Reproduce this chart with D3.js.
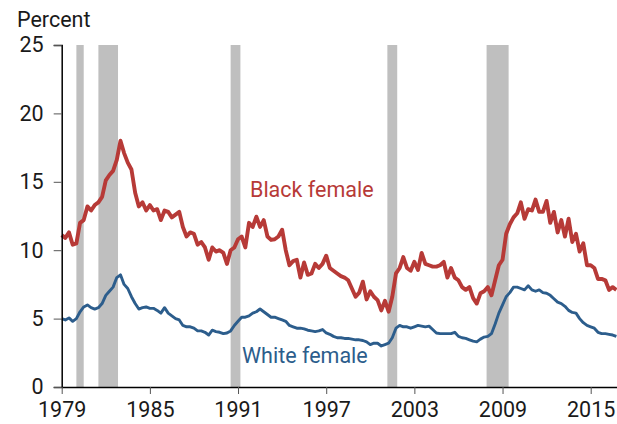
<!DOCTYPE html>
<html>
<head>
<meta charset="utf-8">
<script src="https://cdn.jsdelivr.net/npm/d3@7"></script>
<style>
  body { margin: 0; background: #fff; }
  text { font-family: Roboto, "Noto Sans", sans-serif; }
</style>
</head>
<body>
<svg id="visualization" width="617" height="424"></svg>
<script>
// quarterly readings (Jan, Apr, Jul, Oct), starting 1979
const startYear = 1979;
const blackFemale = [
    11.1, 10.9, 11.3, 10.4,   // 1979
    10.5, 12.0, 12.2, 13.2,
    12.9, 13.3, 13.5, 13.9,
    15.1, 15.5, 15.8, 16.6,
    18.0, 17.1, 16.4, 15.9,
    14.2, 13.2, 13.5, 12.9,   // 1984
    13.3, 12.9, 13.0, 12.2,
    12.9, 12.8, 12.4, 12.6,
    12.8, 11.7, 11.0, 11.3,
    11.2, 10.4, 10.6, 10.2,
    9.3, 10.2, 9.9, 10.0,     // 1989
    9.8, 9.0, 10.0, 10.2,
    10.8, 11.0, 10.2, 12.0,
    11.7, 12.45, 11.7, 12.2,
    11.0, 10.75, 10.8, 11.0,
    11.5, 10.0, 8.9, 9.2,     // 1994
    9.3, 8.0, 9.1, 8.2,
    8.3, 9.0, 8.7, 9.0,
    9.6, 8.7, 8.5, 8.3,
    8.1, 8.0, 7.8, 7.2,
    6.6, 6.9, 7.7, 6.4,       // 1999
    7.0, 6.6, 6.35, 5.6,
    6.3, 5.5, 6.6, 8.3,
    8.7, 9.5, 8.7, 8.5,
    9.15, 8.55, 9.8, 9.0,
    8.9, 8.8, 8.8, 8.9,       // 2004
    9.15, 8.0, 8.7, 8.0,
    7.8, 7.3, 7.1, 7.3,
    6.5, 6.1, 6.85, 7.0,
    7.3, 6.7, 7.8, 8.9,
    9.3, 11.2, 11.9, 12.4,    // 2009
    12.7, 13.5, 12.3, 13.0,
    12.9, 13.7, 12.8, 12.8,
    13.6, 12.0, 12.8, 11.3,
    12.2, 11.0, 12.3, 10.6,
    11.2, 9.9, 10.5, 8.9,     // 2014
    8.9, 8.7, 7.9, 7.9,
    7.8, 7.1, 7.3, 7.1
];
const whiteFemale = [
    5.0, 4.9, 5.05, 4.8,      // 1979
    5.0, 5.5, 5.85, 6.0,
    5.8, 5.7, 5.8, 6.1,
    6.7, 7.0, 7.3, 8.0,
    8.2, 7.5, 7.2, 6.6,
    6.1, 5.7, 5.8, 5.85,      // 1984
    5.75, 5.75, 5.6, 5.4,
    5.8, 5.4, 5.2, 5.0,
    4.9, 4.5, 4.4, 4.4,
    4.3, 4.1, 4.1, 4.0,
    3.8, 4.15, 4.05, 4.0,     // 1989
    3.9, 3.95, 4.1, 4.5,
    4.8, 5.1, 5.1, 5.2,
    5.4, 5.5, 5.7, 5.5,
    5.3, 5.1, 5.1, 5.0,
    4.9, 4.8, 4.5, 4.4,       // 1994
    4.3, 4.3, 4.25, 4.15,
    4.1, 4.05, 4.1, 4.2,
    3.95, 3.85, 3.7, 3.6,
    3.6, 3.55, 3.55, 3.5,
    3.45, 3.45, 3.4, 3.3,     // 1999
    3.1, 3.2, 3.2, 3.0,
    3.1, 3.2, 3.6, 4.3,
    4.5, 4.4, 4.4, 4.3,
    4.4, 4.5, 4.45, 4.4,
    4.45, 4.2, 3.95, 3.9,     // 2004
    3.9, 3.9, 3.9, 4.0,
    3.7, 3.6, 3.55, 3.45,
    3.35, 3.3, 3.5, 3.65,
    3.7, 3.9, 4.6, 5.4,
    6.0, 6.6, 6.9, 7.3,       // 2009
    7.3, 7.2, 7.1, 7.4,
    7.1, 7.0, 7.1, 6.9,
    6.85, 6.7, 6.45, 6.2,
    6.1, 5.9, 5.6, 5.45,
    5.4, 5.0, 4.7, 4.5,       // 2014
    4.4, 4.3, 4.0, 3.9,
    3.9, 3.85, 3.8, 3.7
];
const recessions = [
    ["1980-01", "1980-07"],
    ["1981-07", "1982-11"],
    ["1990-07", "1991-03"],
    ["2001-03", "2001-11"],
    ["2007-12", "2009-06"]
];
const tickYears = [1979, 1985, 1991, 1997, 2003, 2009, 2015];
const yTicks = [0, 5, 10, 15, 20, 25];

const parseMonth = d3.timeParse("%Y-%m");
const dates = blackFemale.map((_, i) => new Date(startYear, i * 3, 1));

const svg = d3.select("#visualization");
const margin = { top: 45, right: 0, bottom: 37, left: 61.7 };
const width = 617 - margin.left - margin.right;
const height = 424 - margin.top - margin.bottom;

const xScale = d3.scaleTime()
    .domain([new Date(1979, 0, 1), new Date(2016, 9, 16)])
    .range([0, width]);
const yScale = d3.scaleLinear()
    .domain([0, 25])
    .range([height, 0]);

const chart = svg.append("g")
    .attr("transform", `translate(${margin.left}, ${margin.top})`);

chart.selectAll(".recession")
    .data(recessions)
    .join("rect")
    .attr("class", "recession")
    .attr("x", d => xScale(parseMonth(d[0])))
    .attr("width", d => xScale(parseMonth(d[1])) - xScale(parseMonth(d[0])))
    .attr("y", yScale(25))
    .attr("height", yScale(0) - yScale(25))
    .attr("fill", "#bfbfbf");

const line = d3.line()
    .x((d, i) => xScale(dates[i]))
    .y(d => yScale(d));

chart.append("path")
    .datum(blackFemale)
    .attr("d", line)
    .attr("fill", "none")
    .attr("stroke", "#b73a37")
    .attr("stroke-width", 3.9)
    .attr("stroke-linejoin", "round");

chart.append("path")
    .datum(whiteFemale)
    .attr("d", line)
    .attr("fill", "none")
    .attr("stroke", "#2c5d8c")
    .attr("stroke-width", 2.9)
    .attr("stroke-linejoin", "round");

const yAxis = chart.append("g")
    .call(d3.axisLeft(yScale).tickValues(yTicks).tickSize(8).tickPadding(10));
yAxis.select(".domain").attr("stroke", "#000").attr("stroke-width", 1.5);
yAxis.selectAll(".tick line").attr("stroke", "#555");
yAxis.selectAll("text").attr("font-size", 21.5).attr("fill", "#1a1a1a");

const xAxis = chart.append("g")
    .attr("transform", `translate(0, ${height})`)
    .call(d3.axisBottom(xScale)
        .tickValues(tickYears.map(y => new Date(y, 0, 1)))
        .tickFormat(d3.timeFormat("%Y"))
        .tickSize(7).tickPadding(8).tickSizeOuter(0));
xAxis.select(".domain").attr("stroke", "#000").attr("stroke-width", 1.5);
xAxis.selectAll(".tick line").attr("stroke", "#555");
xAxis.selectAll("text").attr("font-size", 21.5).attr("fill", "#1a1a1a");

svg.append("text")
    .attr("x", 17)
    .attr("y", 27)
    .attr("font-size", 21.5)
    .attr("fill", "#1a1a1a")
    .text("Percent");

chart.append("text")
    .attr("x", 250 - margin.left)
    .attr("y", 197 - margin.top)
    .attr("font-size", 21.5)
    .attr("fill", "#b73a37")
    .text("Black female");

chart.append("text")
    .attr("x", 242 - margin.left)
    .attr("y", 363 - margin.top)
    .attr("font-size", 21.5)
    .attr("fill", "#2c5d8c")
    .text("White female");
</script>
</body>
</html>
